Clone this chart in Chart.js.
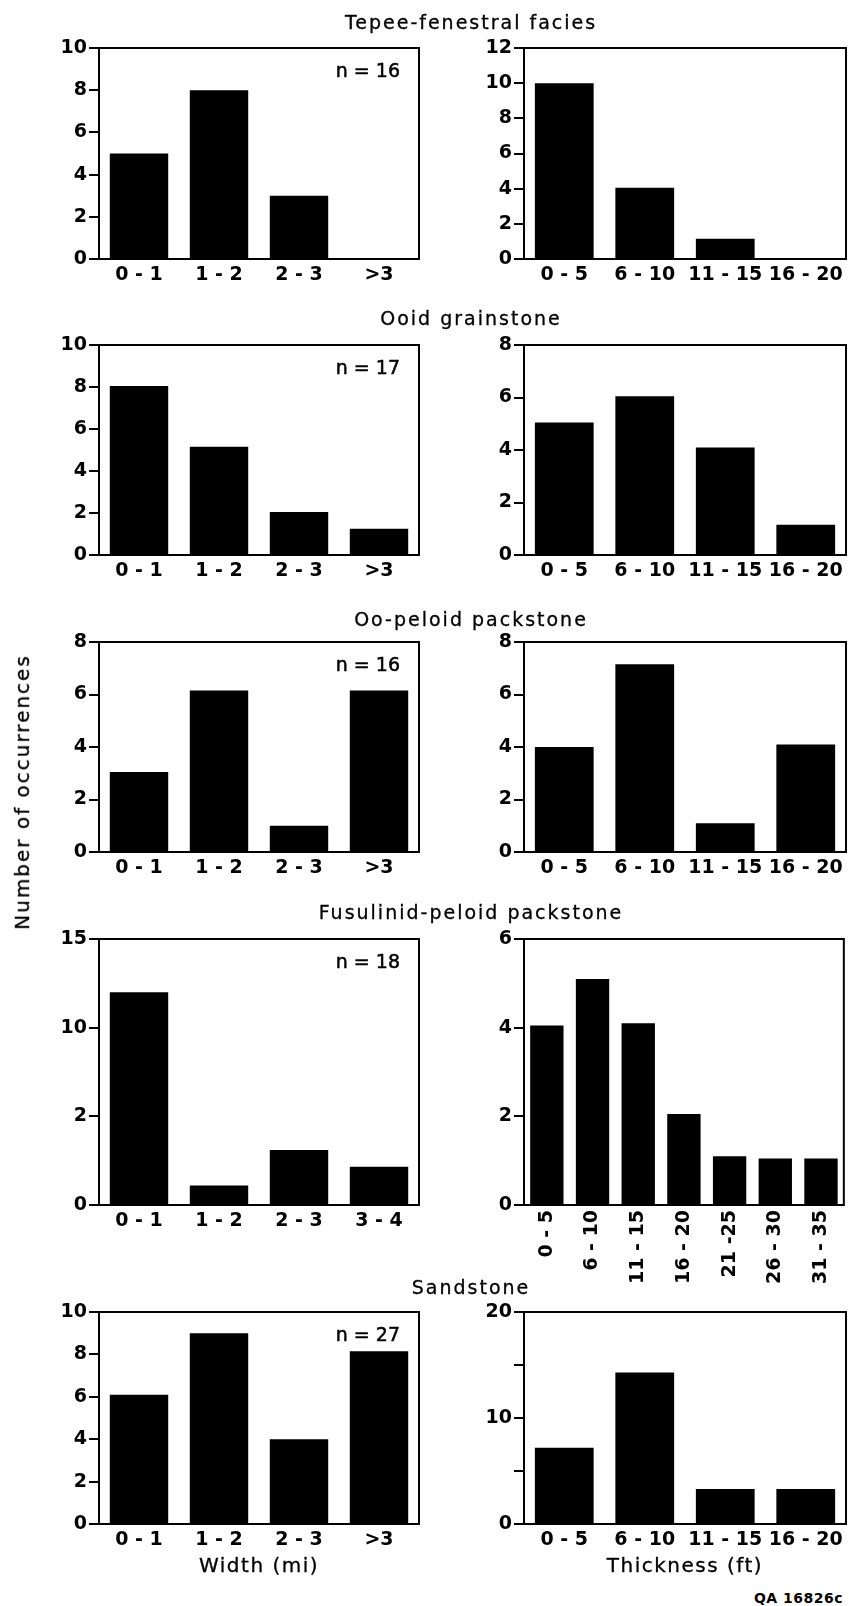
<!DOCTYPE html>
<html>
<head>
<meta charset="utf-8">
<script src="https://cdn.jsdelivr.net/npm/chart.js@4.4.1/dist/chart.umd.min.js"></script>
<style>
  html, body { margin: 0; padding: 0; background: #fff; }
  body { width: 849px; height: 1606px; position: relative; overflow: hidden; font-family: "DejaVu Sans", sans-serif; color: #000; }
  canvas { position: absolute; }
  .txt { position: absolute; white-space: nowrap; line-height: 22px; -webkit-text-stroke: 0.3px #000; }
  .title { left: 0; width: 942px; text-align: center; font-size: 19px; letter-spacing: 2px; }
  .axis { font-size: 20px; letter-spacing: 1.5px; transform: translate(-50%, -50%); }
  .ylab { font-size: 20px; letter-spacing: 2px; transform: translate(-50%, -50%) rotate(-90deg); }
  .code { font-size: 14px; font-weight: bold; letter-spacing: 0.5px; -webkit-text-stroke: 0; }
</style>
</head>
<body>
<script>
// Bin labels
const widthBins = ['0 - 1', '1 - 2', '2 - 3', '>3'];
const widthBinsFusulinid = ['0 - 1', '1 - 2', '2 - 3', '3 - 4'];
const thickBins = ['0 - 5', '6 - 10', '11 - 15', '16 - 20'];
const thickBinsFusulinid = ['0 - 5', '6 - 10', '11 - 15', '16 - 20', '21 -25', '26 - 30', '31 - 35'];

const facies = ['Tepee-fenestral facies', 'Ooid grainstone', 'Oo-peloid packstone', 'Fusulinid-peloid packstone', 'Sandstone'];
const sampleCounts = [16, 17, 16, 18, 27];

// Number of occurrences
const tepeeWidth = [5, 8, 3, 0];
const tepeeThick = [10, 4.05, 1.15, 0];
const ooidWidth = [8.05, 5.15, 2.05, 1.25];
const ooidThick = [5.05, 6.05, 4.1, 1.15];
const oopeloidWidth = [3.05, 6.15, 1, 6.15];
const oopeloidThick = [4, 7.15, 1.1, 4.1];
const fusulinidWidth = [12, 1.1, 3.1, 2.15];
const fusulinidThick = [4.05, 5.1, 4.1, 2.05, 1.1, 1.05, 1.05];
const sandWidth = [6.1, 9, 4, 8.15];
const sandThick = [7.2, 14.3, 3.3, 3.3];

// Y tick labels (the fusulinid width axis is printed 0, 2, 10, 15 in the original)
const ticks6 = ['0', '2', '4', '6'];
const ticks8 = ['0', '2', '4', '6', '8'];
const ticks10 = ['0', '2', '4', '6', '8', '10'];
const ticks12 = ['0', '2', '4', '6', '8', '10', '12'];
const ticksFusWidth = ['0', '2', '10', '15'];
const ticks20 = ['0', '', '10', '', '20'];

// Layout of the plot boxes
const colLeft = [99, 524];
const colWidth = [320, 322];
const rowTop = [48, 345, 642, 939, 1312];
const rowHeight = [211, 210, 210, 266, 212];
const AXIS_W = 60, PAD_TOP = 20, PAD_RIGHT = 3;

const tickFont = { family: 'DejaVu Sans', size: 19, weight: 'bold' };

// Box round the plot area
const framePlugin = {
    id: 'frame',
    afterDatasetsDraw(chart) {
        const { ctx, chartArea: a } = chart;
        ctx.save();
        ctx.strokeStyle = '#000';
        ctx.lineWidth = 2;
        ctx.strokeRect(a.left, a.top, a.right - a.left, a.bottom - a.top);
        ctx.restore();
    }
};

// "n = .." note in the top right corner
const sampleSizePlugin = {
    id: 'sampleSize',
    afterDraw(chart, args, opts) {
        if (!opts.text) return;
        const { ctx, chartArea: a } = chart;
        ctx.save();
        ctx.fillStyle = '#000';
        ctx.strokeStyle = '#000';
        ctx.lineWidth = 0.5;
        ctx.font = '19px "DejaVu Sans"';
        ctx.textAlign = 'right';
        ctx.textBaseline = 'middle';
        ctx.fillText(opts.text, a.right - 19, a.top + 24);
        ctx.strokeText(opts.text, a.right - 19, a.top + 24);
        ctx.restore();
    }
};

function makeChart(row, col, labels, values, yMax, yStep, yTicks, nText, rotated) {
    const xAxisH = rotated ? 80 : 30;
    const w = AXIS_W + colWidth[col] + PAD_RIGHT;
    const h = PAD_TOP + rowHeight[row] + xAxisH;
    const canvas = document.createElement('canvas');
    canvas.width = w;
    canvas.height = h;
    canvas.style.width = w + 'px';
    canvas.style.height = h + 'px';
    canvas.style.left = (colLeft[col] - AXIS_W) + 'px';
    canvas.style.top = (rowTop[row] - PAD_TOP) + 'px';
    document.body.appendChild(canvas);

    const rot = rotated ? 90 : 0;
    return new Chart(canvas.getContext('2d'), {
        type: 'bar',
        data: {
            labels: labels,
            datasets: [{
                data: values,
                backgroundColor: '#000',
                borderWidth: 0,
                barPercentage: 0.73,
                categoryPercentage: 1
            }]
        },
        options: {
            responsive: false,
            animation: false,
            layout: { padding: { top: PAD_TOP, right: PAD_RIGHT, left: 0, bottom: 0 } },
            plugins: {
                legend: { display: false },
                tooltip: { enabled: false },
                sampleSize: { text: nText }
            },
            scales: {
                x: {
                    grid: { display: false, drawTicks: false },
                    border: { display: false },
                    ticks: { color: '#000', font: tickFont, padding: 5, maxRotation: rot, minRotation: rot, autoSkip: false },
                    afterFit: s => { s.height = xAxisH; }
                },
                y: {
                    min: 0,
                    max: yMax,
                    grid: { drawOnChartArea: false, drawTicks: true, tickLength: 10, color: '#000', lineWidth: 2 },
                    border: { display: false },
                    ticks: { stepSize: yStep, color: '#000', font: tickFont, padding: 2, callback: (v, i) => yTicks[i] },
                    afterFit: s => { s.width = AXIS_W; }
                }
            }
        },
        plugins: [framePlugin, sampleSizePlugin]
    });
}

function addText(cls, text, style) {
    const d = document.createElement('div');
    d.className = 'txt ' + cls;
    d.textContent = text;
    Object.assign(d.style, style);
    document.body.appendChild(d);
}

document.addEventListener('DOMContentLoaded', function () {
    const n = sampleCounts.map(c => 'n = ' + c);

    makeChart(0, 0, widthBins, tepeeWidth, 10, 2, ticks10, n[0]);
    makeChart(0, 1, thickBins, tepeeThick, 12, 2, ticks12);
    makeChart(1, 0, widthBins, ooidWidth, 10, 2, ticks10, n[1]);
    makeChart(1, 1, thickBins, ooidThick, 8, 2, ticks8);
    makeChart(2, 0, widthBins, oopeloidWidth, 8, 2, ticks8, n[2]);
    makeChart(2, 1, thickBins, oopeloidThick, 8, 2, ticks8);
    makeChart(3, 0, widthBinsFusulinid, fusulinidWidth, 15, 5, ticksFusWidth, n[3]);
    makeChart(3, 1, thickBinsFusulinid, fusulinidThick, 6, 2, ticks6, null, true);
    makeChart(4, 0, widthBins, sandWidth, 10, 2, ticks10, n[4]);
    makeChart(4, 1, thickBins, sandThick, 20, 5, ticks20);

    const titleY = [22, 318, 619, 912, 1287];
    facies.forEach((f, i) => addText('title', f, { top: (titleY[i] - 11) + 'px' }));

    addText('axis', 'Width (mi)', { left: '259px', top: '1565px' });
    addText('axis', 'Thickness (ft)', { left: '685px', top: '1565px' });
    addText('ylab', 'Number of occurrences', { left: '22px', top: '792px' });
    addText('code', 'QA 16826c', { right: '6px', top: '1587px' });
});
</script>
</body>
</html>
